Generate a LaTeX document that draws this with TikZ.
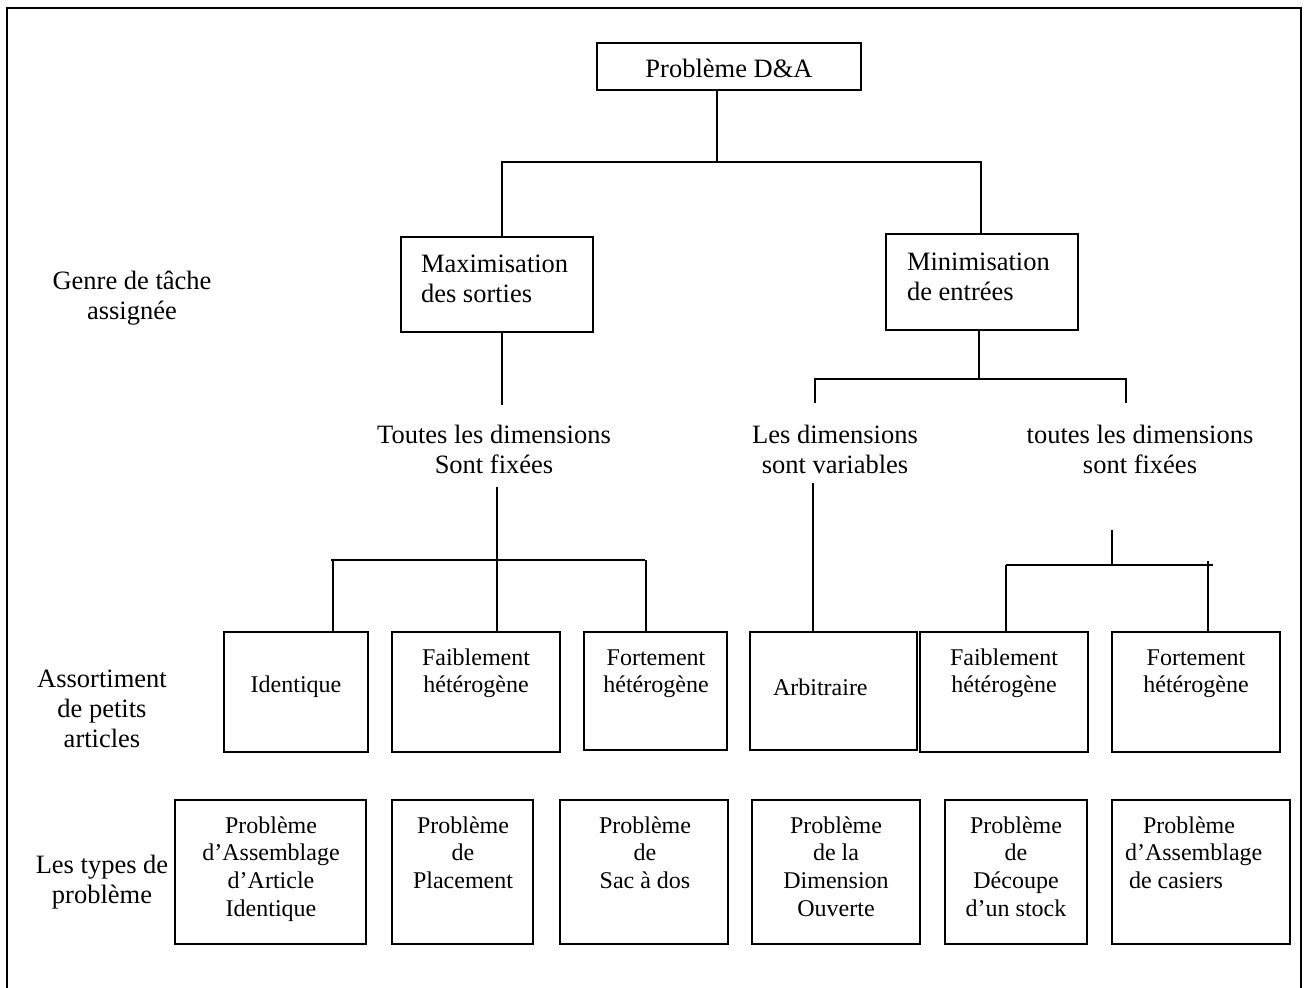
\documentclass[tikz,border=0pt]{standalone}
\usepackage{fontspec}
\setmainfont{Liberation Serif}
\usetikzlibrary{fit}
% stacked lines whose reference point is the baseline of the first line
\newcommand{\cstack}[1]{\begin{tabular}[t]{@{}c@{}}#1\end{tabular}}
\newcommand{\lstack}[1]{\begin{tabular}[t]{@{}l@{}}#1\end{tabular}}
\begin{document}
\begin{tikzpicture}[x=0.5pt,y=-0.5pt,
  every node/.style={inner sep=0pt, outer sep=0pt},
  box/.style={draw, line width=0.75pt, inner sep=0pt},
  big/.style={font=\fontsize{13.25}{15}\selectfont, anchor=base},
  small/.style={font=\fontsize{12}{13.85}\selectfont, anchor=base},
  link/.style={line width=0.7pt},
  frame/.style={line width=1pt}]
\useasboundingbox (0,0) rectangle (1309,988);

% outer frame (its lower edge lies below the page)
\draw[frame] (7,1000) -- (7,8) -- (1301,8) -- (1301,1000);

% root
\node[box, fit={(597,43) (861,90)}] (top) {};
\node[big] (topT) at (729,78) {Problème D\&A};

% task kind
\node[box, fit={(401,237) (593,332)}] (max) {};
\node[big, anchor=base west] (maxT) at (421,273) {\lstack{Maximisation\\des sorties}};
\node[box, fit={(886,234) (1078,330)}] (min) {};
\node[big, anchor=base west] (minT) at (907,271) {\lstack{Minimisation\\de entrées}};

% dimension labels
\node[big] (dimA) at (494,443) {\cstack{Toutes les dimensions\\Sont fixées}};
\node[big] (dimB) at (835,443) {\cstack{Les dimensions\\sont variables}};
\node[big] (dimC) at (1140,443) {\cstack{toutes les dimensions\\sont fixées}};

% row captions
\node[big] (lab1) at (132,290) {\cstack{Genre de tâche\\assignée}};
\node[big] (lab2) at (102,687) {\cstack{Assortiment\\de petits\\articles}};
\node[big] (lab3) at (102,873) {\cstack{Les types de\\problème}};

% assortment of small items
\node[box, fit={(224,632) (368,752)}] (ident) {};
\node[small] (identT) at (296,692) {Identique};
\node[box, fit={(392,632) (560,752)}] (faibL) {};
\node[small] (faibLT) at (476,665) {\cstack{Faiblement\\hétérogène}};
\node[box, fit={(584,632) (727,750)}] (fortL) {};
\node[small] (fortLT) at (656,665) {\cstack{Fortement\\hétérogène}};
\node[box, fit={(750,632) (917,750)}] (arb) {};
\node[small, anchor=base west] (arbT) at (773,695) {Arbitraire};
\node[box, fit={(920,632) (1088,752)}] (faibR) {};
\node[small] (faibRT) at (1004,665) {\cstack{Faiblement\\hétérogène}};
\node[box, fit={(1112,632) (1280,752)}] (fortR) {};
\node[small] (fortRT) at (1196,665) {\cstack{Fortement\\hétérogène}};

% problem types
\node[box, fit={(175,800) (366,944)}] (p1) {};
\node[small] (p1T) at (271,833) {\cstack{Problème\\d’Assemblage\\d’Article\\Identique}};
\node[box, fit={(392,800) (533,944)}] (p2) {};
\node[small] (p2T) at (463,833) {\cstack{Problème\\de\\Placement}};
\node[box, fit={(560,800) (728,944)}] (p3) {};
\node[small] (p3T) at (645,833) {\cstack{Problème\\de\\Sac à dos}};
\node[box, fit={(752,800) (920,944)}] (p4) {};
\node[small] (p4T) at (836,833) {\cstack{Problème\\de la\\Dimension\\Ouverte}};
\node[box, fit={(945,800) (1087,944)}] (p5) {};
\node[small] (p5T) at (1016,833) {\cstack{Problème\\de\\Découpe\\d’un stock}};
\node[box, fit={(1112,800) (1290,944)}] (p6) {};
\node[small, anchor=base west] (p6T) at (1125,833) {\lstack{\hspace{9pt}Problème\\d’Assemblage\\\hspace{2pt}de casiers}};

% root to task kinds
\coordinate (t0) at (717,162);
\coordinate (tL) at (502,162);
\coordinate (tR) at (981,162);
\draw[link] (top.south -| t0) -- (t0);
\draw[link] (max.north -| tL) -- (tL) -- (tR) -- (min.north -| tR);

% maximisation branch
\coordinate (mE) at (502,405);
\draw[link] (max.south -| mE) -- (mE);
\coordinate (fS) at (497,487);
\coordinate (fL) at (331,560);
\coordinate (fR) at (645,560);
\coordinate (fLv) at (333,560);
\coordinate (fRv) at (646,560);
\draw[link] (fS) -- (faibL.north -| fS);
\draw[link] (fL) -- (fR);
\draw[link] (fLv) -- (ident.north -| fLv);
\draw[link] (fRv) -- (fortL.north -| fRv);

% minimisation branch
\coordinate (nJ) at (979,379);
\coordinate (nL) at (815,379);
\coordinate (nR) at (1126,379);
\coordinate (nLe) at (815,403);
\coordinate (nRe) at (1126,403);
\draw[link] (min.south -| nJ) -- (nJ);
\draw[link] (nLe) -- (nL) -- (nR) -- (nRe);

\coordinate (vS) at (813,483);
\draw[link] (vS) -- (arb.north -| vS);

\coordinate (rS) at (1112,530);
\coordinate (rJ) at (1112,565);
\coordinate (rL) at (1006,565);
\coordinate (rR) at (1213,565);
\coordinate (rRv) at (1208,561);
\draw[link] (rS) -- (rJ);
\draw[link] (rL) -- (rR);
\draw[link] (rL) -- (faibR.north -| rL);
\draw[link] (rRv) -- (fortR.north -| rRv);
\end{tikzpicture}
\end{document}
